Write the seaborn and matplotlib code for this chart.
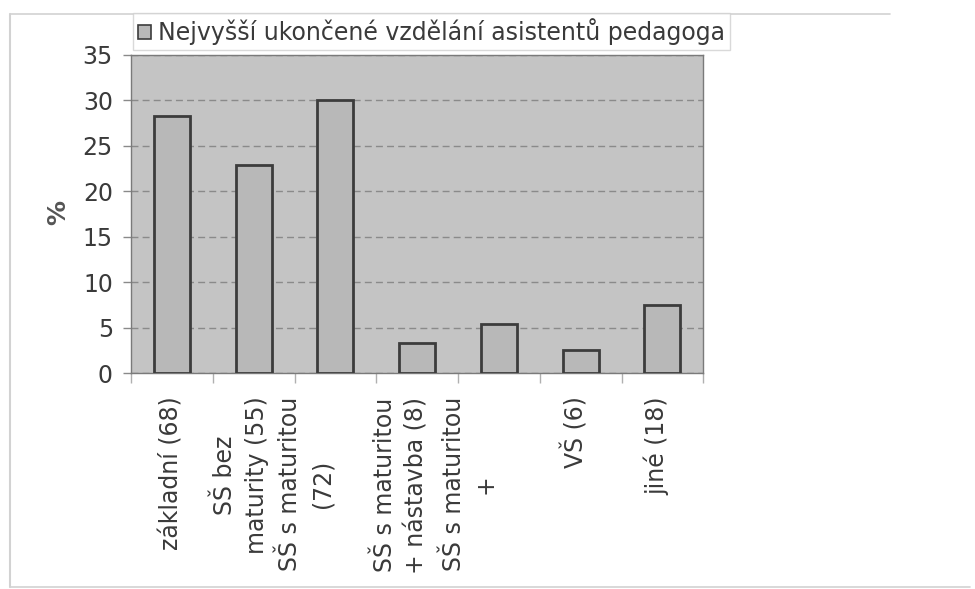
import matplotlib
matplotlib.use("Agg")
import matplotlib.pyplot as plt
import matplotlib.transforms as mtransforms
from matplotlib.patches import Rectangle
from matplotlib.lines import Line2D
import seaborn as sns
import pandas as pd

categories = [
    "základní (68)",
    "SŠ bez\nmaturity (55)",
    "SŠ s maturitou\n(72)",
    "SŠ s maturitou\n+ nástavba (8)",
    "SŠ s maturitou\n+",
    "VŠ (6)",
    "jiné (18)",
]
percent = [28.3, 22.9, 30.0, 3.3, 5.4, 2.5, 7.5]
y_ticks = [0, 5, 10, 15, 20, 25, 30, 35]
series_name = "Nejvyšší ukončené vzdělání asistentů pedagoga"

sns.set_theme(style="white")
plt.rcParams["font.family"] = ["DejaVu Sans"]

fs = 17
text_col = "#3a3a3a"
plot_bg = "#c4c4c4"
bar_col = "#b8b8b8"
edge_col = "#3c3c3c"

df = pd.DataFrame({"kategorie": categories, "procenta": percent})

fig = plt.figure(figsize=(9.75, 5.89), dpi=100)
fig.patch.set_facecolor("white")
ax = fig.add_axes([0.1344, 0.3667, 0.587, 0.540])
ax.set_facecolor(plot_bg)

sns.barplot(data=df, x="kategorie", y="procenta", color=bar_col,
            edgecolor=edge_col, linewidth=2.0, width=0.44,
            saturation=1, ax=ax, zorder=3)

ax.set_ylim(0, 35)
ax.set_xlim(-0.5, len(categories) - 0.5)
ax.set_yticks(y_ticks)
ax.set_yticklabels([str(t) for t in y_ticks], fontsize=fs, color=text_col)
ax.yaxis.grid(True, color="#8a8a8a", linestyle=(0, (5, 3)), linewidth=1.0)
ax.set_axisbelow(True)
for s in ax.spines.values():
    s.set_color("#7a7a7a")
    s.set_linewidth(1.0)

ax.tick_params(axis="y", which="major", left=True, length=6, width=1,
               color="#8a8a8a", pad=7)
ax.set_xticks(range(len(categories)))
ax.set_xticklabels(categories, rotation=90, fontsize=fs, color=text_col,
                   ha="center", va="top", multialignment="center",
                   linespacing=1.4)
ax.tick_params(axis="x", which="major", bottom=False, length=0, pad=17)
ax.set_xticks([i + 0.5 for i in range(-1, len(categories))], minor=True)
ax.tick_params(axis="x", which="minor", bottom=True, length=7, width=1,
               color="#b0b0b0")

# wrapped category labels sit a little left of their tick, as in the
# original spreadsheet layout
label_shift_pt = [0, -9, -21, -12, -21, -4, -4]
for lbl, dx in zip(ax.get_xticklabels(), label_shift_pt):
    lbl.set_transform(lbl.get_transform()
                      + mtransforms.ScaledTranslation(dx / 72, 0,
                                                      fig.dpi_scale_trans))

ax.set_xlabel("")
ax.set_ylabel("%", fontsize=18, color="#555555", fontweight="bold")
ax.yaxis.label.set_va("center")
ax.yaxis.set_label_coords(-0.128, 0.506)

# Legend above the plot area
handle = Rectangle((0, 0), 1, 1, facecolor=bar_col, edgecolor=edge_col,
                   linewidth=1.2)
leg = fig.legend([handle], [series_name], loc="upper left",
                 bbox_to_anchor=(133 / 975, 1 - 13 / 589),
                 fontsize=fs, frameon=True, fancybox=False,
                 handlelength=0.55, handleheight=0.55, handletextpad=0.3,
                 borderpad=0.22, borderaxespad=0)
leg.get_frame().set_edgecolor("#d0d0d0")
leg.get_frame().set_linewidth(1.0)
for t in leg.get_texts():
    t.set_color(text_col)

# Outer chart frame
frame_col = "#d2d2d2"
fig.add_artist(Line2D([10 / 975, 10 / 975], [1 - 14 / 589, 1 - 587 / 589],
                      transform=fig.transFigure, color=frame_col, lw=1.5))
fig.add_artist(Line2D([10 / 975, 890 / 975], [1 - 14 / 589, 1 - 14 / 589],
                      transform=fig.transFigure, color=frame_col, lw=1.2))
fig.add_artist(Line2D([10 / 975, 970 / 975], [1 - 587 / 589, 1 - 587 / 589],
                      transform=fig.transFigure, color=frame_col, lw=1.2))

fig.savefig("out.png", dpi=100)
